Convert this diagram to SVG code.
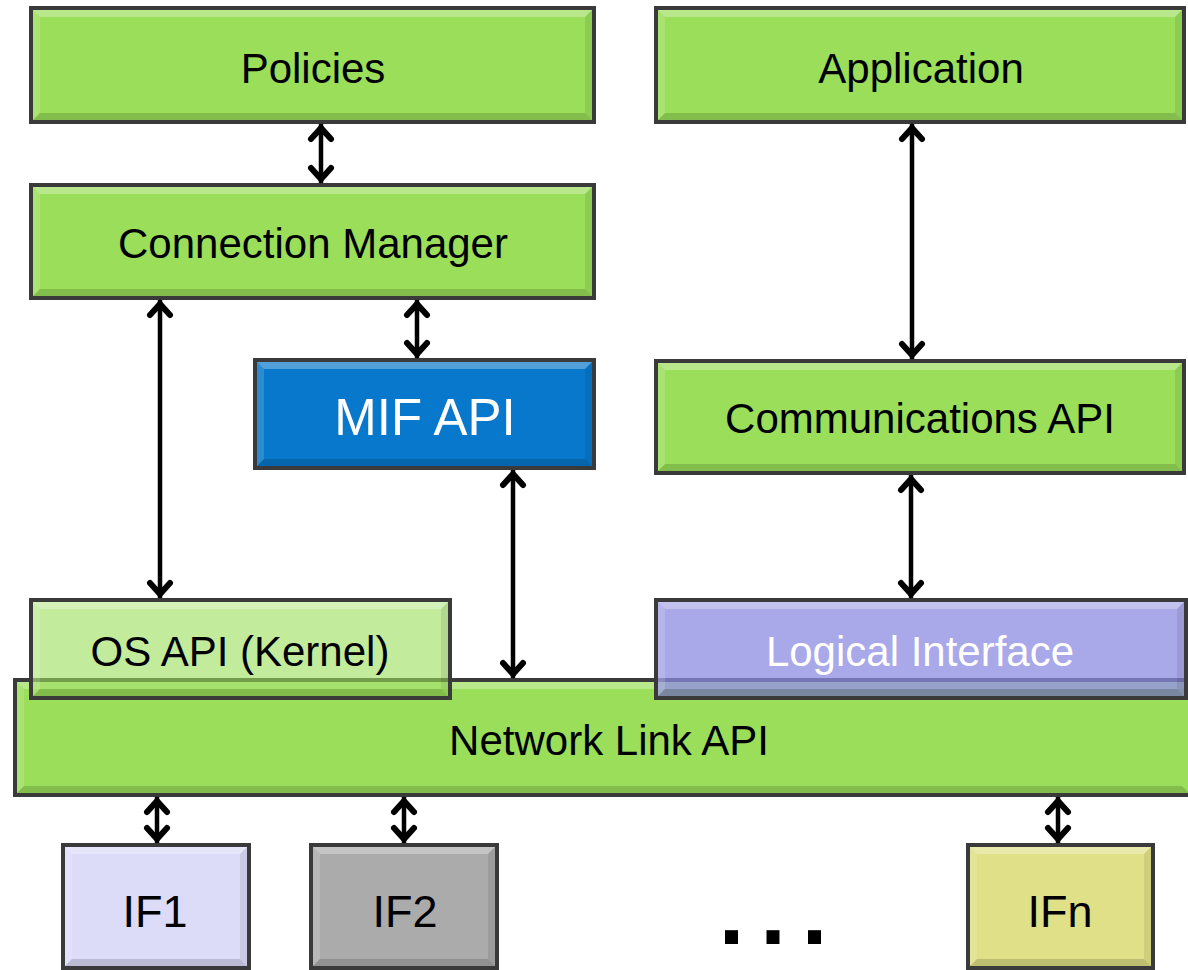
<svg xmlns="http://www.w3.org/2000/svg" width="1188" height="970" viewBox="0 0 1188 970">
<style>
.bx{stroke:#3a3a3a;stroke-width:4}
.g{fill:#9ADE5A}
.bt{fill:#fff;fill-opacity:.3}
.bl{fill:#fff;fill-opacity:.15}
.bb{fill:#000;fill-opacity:.15}
.br{fill:#000;fill-opacity:.08}
text{font-family:"Liberation Sans",Arial,sans-serif;font-size:42px;text-anchor:middle;fill:#000}
.w{fill:#fff}
.cn line{stroke:#000;stroke-width:4.5;marker-start:url(#ah);marker-end:url(#ah)}
</style>
<defs>
<marker id="ah" viewBox="-22 -15 28 30" refX="0" refY="0" markerWidth="28" markerHeight="30" markerUnits="userSpaceOnUse" orient="auto-start-reverse">
<path d="M-15,-10 L-4,0 L-15,10" fill="none" stroke="#000" stroke-width="6" stroke-linecap="round"/>
</marker>
</defs>
<rect width="1188" height="970" fill="#fff"/>

<g id="policies" transform="translate(29,6)">
<rect class="bx g" x="2" y="2" width="563" height="114"/>
<path class="bt" d="M4,4 H563 L556,11 H11 Z"/><path class="bl" d="M4,4 L11,11 V107 L4,114 Z"/><path class="bb" d="M4,114 L11,107 H556 L563,114 Z"/><path class="br" d="M563,4 V114 L556,107 V11 Z"/>
<text x="284" y="77">Policies</text>
</g>

<g id="application" transform="translate(654,6)">
<rect class="bx g" x="2" y="2" width="528" height="114"/>
<path class="bt" d="M4,4 H528 L521,11 H11 Z"/><path class="bl" d="M4,4 L11,11 V107 L4,114 Z"/><path class="bb" d="M4,114 L11,107 H521 L528,114 Z"/><path class="br" d="M528,4 V114 L521,107 V11 Z"/>
<text x="267" y="77">Application</text>
</g>

<g id="connection-manager" transform="translate(29,183)">
<rect class="bx g" x="2" y="2" width="563" height="113"/>
<path class="bt" d="M4,4 H563 L556,11 H11 Z"/><path class="bl" d="M4,4 L11,11 V106 L4,113 Z"/><path class="bb" d="M4,113 L11,106 H556 L563,113 Z"/><path class="br" d="M563,4 V113 L556,106 V11 Z"/>
<text x="284" y="75">Connection Manager</text>
</g>

<g id="mif-api" transform="translate(253,358)">
<rect class="bx" fill="#0778CB" x="2" y="2" width="339" height="108"/>
<path class="bt" d="M4,4 H339 L332,11 H11 Z"/><path class="bl" d="M4,4 L11,11 V101 L4,108 Z"/><path class="bb" d="M4,108 L11,101 H332 L339,108 Z"/><path class="br" d="M339,4 V108 L332,101 V11 Z"/>
<text class="w" x="172" y="77" style="font-size:51px">MIF API</text>
</g>

<g id="communications-api" transform="translate(654,359)">
<rect class="bx g" x="2" y="2" width="528" height="112"/>
<path class="bt" d="M4,4 H528 L521,11 H11 Z"/><path class="bl" d="M4,4 L11,11 V105 L4,112 Z"/><path class="bb" d="M4,112 L11,105 H521 L528,112 Z"/><path class="br" d="M528,4 V112 L521,105 V11 Z"/>
<text x="266" y="74">Communications API</text>
</g>

<g id="network-link-api" transform="translate(13,678)">
<rect class="bx g" x="2" y="2" width="1176" height="115"/>
<path class="bt" d="M4,4 H1176 L1169,11 H11 Z"/><path class="bl" d="M4,4 L11,11 V108 L4,115 Z"/><path class="bb" d="M4,115 L11,108 H1169 L1176,115 Z"/>
<text x="596" y="77">Network Link API</text>
</g>

<g id="os-api" transform="translate(29,598)">
<rect class="bx" fill="#9ADE5A" fill-opacity="0.6" x="2" y="2" width="419" height="98"/>
<path class="bt" d="M4,4 H419 L412,11 H11 Z"/><path class="bl" d="M4,4 L11,11 V91 L4,98 Z"/><path class="bb" d="M4,98 L11,91 H412 L419,98 Z"/><path class="br" d="M419,4 V98 L412,91 V11 Z"/>
<text x="211" y="68">OS API (Kernel)</text>
</g>

<g id="logical-interface" transform="translate(654,598)">
<rect class="bx" fill="#8B89E0" fill-opacity="0.74" x="2" y="2" width="530" height="98"/>
<path class="bt" d="M4,4 H530 L523,11 H11 Z"/><path class="bl" d="M4,4 L11,11 V91 L4,98 Z"/><path class="bb" d="M4,98 L11,91 H523 L530,98 Z"/><path class="br" d="M530,4 V98 L523,91 V11 Z"/>
<text class="w" x="266" y="68">Logical Interface</text>
</g>

<g id="if1" transform="translate(61,843)">
<rect class="bx" fill="#DCDCF8" x="2" y="2" width="186" height="123"/>
<path class="bt" d="M4,4 H186 L179,11 H11 Z"/><path class="bl" d="M4,4 L11,11 V116 L4,123 Z"/><path class="bb" d="M4,123 L11,116 H179 L186,123 Z"/><path class="br" d="M186,4 V123 L179,116 V11 Z"/>
<text x="94" y="84" style="font-size:45px">IF1</text>
</g>

<g id="if2" transform="translate(309,843)">
<rect class="bx" fill="#ABABAB" x="2" y="2" width="186" height="123"/>
<path class="bt" d="M4,4 H186 L179,11 H11 Z"/><path class="bl" d="M4,4 L11,11 V116 L4,123 Z"/><path class="bb" d="M4,123 L11,116 H179 L186,123 Z"/><path class="br" d="M186,4 V123 L179,116 V11 Z"/>
<text x="96" y="84" style="font-size:45px">IF2</text>
</g>

<g id="ifn" transform="translate(966,843)">
<rect class="bx" fill="#E0E088" x="2" y="2" width="185" height="123"/>
<path class="bt" d="M4,4 H185 L178,11 H11 Z"/><path class="bl" d="M4,4 L11,11 V116 L4,123 Z"/><path class="bb" d="M4,123 L11,116 H178 L185,123 Z"/><path class="br" d="M185,4 V123 L178,116 V11 Z"/>
<text x="94" y="84" style="font-size:45px">IFn</text>
</g>

<g id="ellipsis">
<text x="781" y="944" style="font-size:92px;font-weight:bold;letter-spacing:16px">...</text>
</g>

<g id="connectors" class="cn">
<line x1="321" y1="124" x2="321" y2="183"/>
<line x1="160" y1="300" x2="160" y2="598"/>
<line x1="417" y1="300" x2="417" y2="358"/>
<line x1="513" y1="470" x2="513" y2="678"/>
<line x1="912" y1="124" x2="912" y2="359"/>
<line x1="911" y1="475" x2="911" y2="598"/>
<line x1="157" y1="797" x2="157" y2="843"/>
<line x1="404" y1="797" x2="404" y2="843"/>
<line x1="1058" y1="797" x2="1058" y2="843"/>
</g>
</svg>
